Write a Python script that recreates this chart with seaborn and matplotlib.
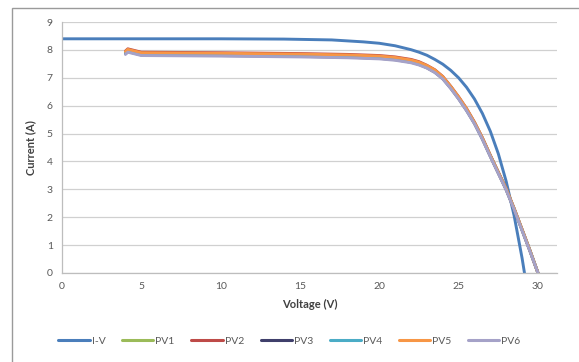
import matplotlib
matplotlib.use('Agg')
import matplotlib.pyplot as plt
import seaborn as sb
import pandas as pd
from matplotlib.patches import Rectangle

sb.set_style('white')
plt.rcParams['font.family'] = ['Lato', 'DejaVu Sans']

# I-V reference curve
iv_v = [0, 5, 10, 14, 17, 19, 20, 21, 22, 22.5, 23, 23.5, 24, 24.5, 25, 25.5,
        26, 26.5, 27, 27.5, 28, 28.5, 29, 29.15]
iv_i = [8.4, 8.4, 8.4, 8.39, 8.36, 8.29, 8.24, 8.15, 8.01, 7.92, 7.81, 7.66, 7.49, 7.27, 7.0, 6.66,
        6.24, 5.72, 5.08, 4.28, 3.28, 2.05, 0.53, 0.0]

# measured PV curves (nearly overlapping)
pv_v = [4, 4.15, 5, 10, 15, 18, 20, 21, 22, 22.5, 23, 23.5, 24, 24.5, 25, 25.5,
        26, 26.5, 27, 27.5, 28, 28.5, 29, 29.5, 30]
pv1_i = [7.92, 8.0, 7.88, 7.86, 7.83, 7.8, 7.76, 7.71, 7.62, 7.54, 7.42, 7.26, 7.02, 6.68, 6.29, 5.87,
         5.39, 4.83, 4.21, 3.61, 3.01, 2.3, 1.55, 0.8, 0.0]
pv2_i = [7.96, 8.04, 7.92, 7.9, 7.87, 7.84, 7.8, 7.75, 7.66, 7.58, 7.45, 7.29, 7.05, 6.7, 6.32, 5.9,
         5.41, 4.85, 4.22, 3.62, 3.02, 2.31, 1.56, 0.8, 0.0]
pv3_i = [7.86, 7.94, 7.82, 7.8, 7.77, 7.74, 7.7, 7.65, 7.56, 7.48, 7.36, 7.2, 6.97, 6.63, 6.25, 5.83,
         5.36, 4.8, 4.18, 3.58, 2.98, 2.28, 1.53, 0.78, 0.0]
pv4_i = [7.9, 7.98, 7.86, 7.84, 7.81, 7.78, 7.74, 7.69, 7.6, 7.52, 7.4, 7.24, 7.0, 6.66, 6.28, 5.86,
         5.38, 4.82, 4.2, 3.6, 3.0, 2.3, 1.55, 0.8, 0.0]
pv5_i = [7.94, 8.02, 7.9, 7.88, 7.85, 7.82, 7.78, 7.73, 7.64, 7.56, 7.44, 7.28, 7.04, 6.69, 6.31, 5.89,
         5.4, 4.84, 4.21, 3.61, 3.01, 2.31, 1.56, 0.8, 0.0]
pv6_i = [7.84, 7.92, 7.8, 7.78, 7.75, 7.72, 7.68, 7.63, 7.54, 7.46, 7.35, 7.19, 6.96, 6.62, 6.24, 5.82,
         5.35, 4.79, 4.17, 3.57, 2.97, 2.27, 1.52, 0.77, 0.0]

names = ['I-V', 'PV1', 'PV2', 'PV3', 'PV4', 'PV5', 'PV6']
colors = ['#4A7EBB', '#9BBB59', '#BE4B48', '#3F3F6B', '#4BACC6', '#F79646', '#A5A2C8']

frames = [pd.DataFrame({'V': iv_v, 'I': iv_i, 'series': 'I-V'})]
for n, vals in zip(names[1:], [pv1_i, pv2_i, pv3_i, pv4_i, pv5_i, pv6_i]):
    frames.append(pd.DataFrame({'V': pv_v, 'I': vals, 'series': n}))
df = pd.concat(frames, ignore_index=True)

fig = plt.figure(figsize=(5.79, 3.62), dpi=100)
ax = fig.add_axes([0.107, 0.246, 0.855, 0.693])

# chart frame like Excel
fig.patches.append(Rectangle((12/579, -0.01), 1.0, 1 - 8/362 + 0.01, transform=fig.transFigure,
                             fill=False, edgecolor='#9a9a9a', linewidth=1.0))

sb.lineplot(data=df, x='V', y='I', hue='series', palette=dict(zip(names, colors)),
            sort=False, linewidth=2.1, ax=ax, legend=False)

ax.set_xlim(0, 31.2)
ax.set_ylim(0, 9)
ax.set_xticks(range(0, 31, 5))
ax.set_yticks(range(0, 10))
ax.grid(axis='y', color='#d0d0d0', linewidth=0.9)
ax.grid(axis='x', visible=False)
for s in ['top', 'right']:
    ax.spines[s].set_visible(False)
for s in ['left', 'bottom']:
    ax.spines[s].set_color('#bdbdbd')
    ax.spines[s].set_linewidth(0.9)
ax.tick_params(axis='both', colors='#bdbdbd', labelcolor='#595959', labelsize=7.5,
               length=3, direction='out', width=0.8)
ax.set_xlabel('Voltage (V)', fontsize=8, fontweight='bold', color='#404040', labelpad=6)
ax.set_ylabel('Current (A)', fontsize=8, fontweight='bold', color='#404040', labelpad=8)

handles = [plt.Line2D([], [], color=c, linewidth=2.2) for c in colors]
fig.legend(handles, names, loc='center', bbox_to_anchor=(0.5, 0.058), ncol=7, frameon=False,
           fontsize=7.5, handlelength=3.0, handletextpad=0.2, columnspacing=1.6, labelcolor='#595959')

fig.savefig('out.png', dpi=100)
